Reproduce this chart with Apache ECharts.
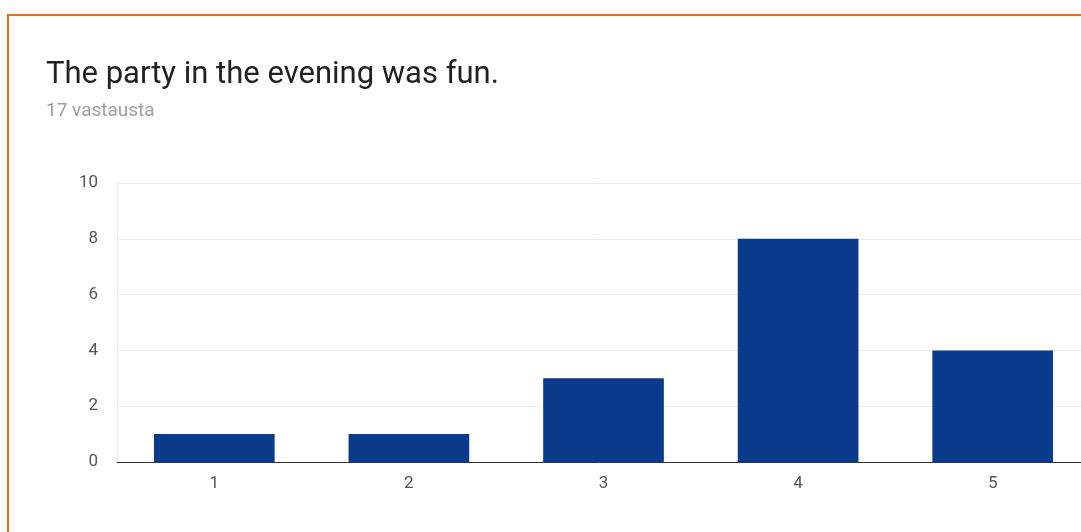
<!DOCTYPE html>
<html>
<head>
<meta charset="utf-8">
<script src="https://cdn.jsdelivr.net/npm/echarts@6/dist/echarts.min.js"></script>
<style>
  html, body { margin: 0; padding: 0; background: #fff; }
  #frame {
    position: absolute; left: 7px; top: 14px; width: 1100px; height: 540px;
    border-top: 2px solid #f9661b; border-left: 2px solid #f9661b;
  }
  #main { position: absolute; left: 0; top: 0; width: 1081px; height: 532px; }
</style>
</head>
<body>
<div id="frame"></div>
<div id="main"></div>
<script>
    var categories = ['1', '2', '3', '4', '5'];
    var answers = [1, 1, 3, 8, 4];
    var yTicks = [0, 2, 4, 6, 8, 10];

    // chart
    var myChart = echarts.init(document.getElementById('main'));
    myChart.setOption({
        animation: false,
        title: {
            text: 'The party in the evening was fun.',
            subtext: '17 vastausta',
            left: 41,
            top: 55,
            itemGap: 11,
            textStyle: { fontFamily: 'Roboto', fontSize: 31, fontWeight: 'normal', color: '#212121' },
            subtextStyle: { fontFamily: 'Roboto', fontSize: 19, color: '#9e9e9e' }
        },
        grid: {
            left: 117, top: 183, width: 973, height: 279,
            outerBoundsMode: 'none'
        },
        xAxis: {
            type: 'category',
            data: categories,
            axisTick: { show: false },
            axisLine: { lineStyle: { color: '#333', width: 1 } },
            axisLabel: { fontFamily: 'Roboto', fontSize: 17, color: '#555', margin: 13 }
        },
        yAxis: {
            type: 'value',
            min: yTicks[0],
            max: yTicks[yTicks.length - 1],
            interval: 2,
            axisLine: { show: true, lineStyle: { color: '#ebebeb' } },
            axisTick: { show: false },
            splitLine: { lineStyle: { color: '#ebebeb' } },
            axisLabel: { fontFamily: 'Roboto', fontSize: 17, color: '#555', margin: 19 }
        },
        series: [
            {
                type: 'bar',
                data: answers,
                barWidth: '62%',
                itemStyle: { color: '#0a3a8b' }
            }
        ]
    });
</script>
</body>
</html>
